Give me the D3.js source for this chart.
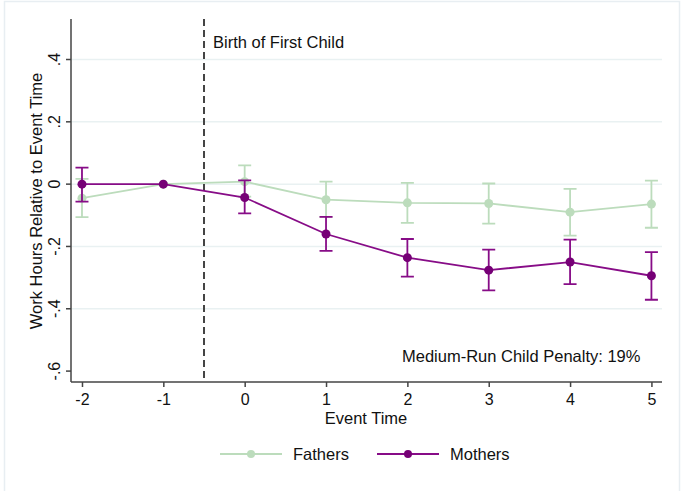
<!DOCTYPE html>
<html>
<head>
<meta charset="utf-8">
<script src="https://cdn.jsdelivr.net/npm/d3@7"></script>
<style>
  body { margin: 0; background: #fff; }
  text { font-family: "Liberation Sans", Arial, sans-serif; fill: #111; }
</style>
</head>
<body>
<svg id="chart" width="681" height="491"></svg>
<script>
// event time categories and tick labels
const eventTimes = [-2, -1, 0, 1, 2, 3, 4, 5];
const xTickLabels = ["-2", "-1", "0", "1", "2", "3", "4", "5"];
const yTicks = [0.4, 0.2, 0, -0.2, -0.4, -0.6];
const yTickLabels = [".4", ".2", "0", "-.2", "-.4", "-.6"];

// estimates with confidence intervals (null = reference period, no CI)
const fathers = [-0.045, 0, 0.008, -0.05, -0.06, -0.062, -0.09, -0.064];
const fathersLo = [-0.106, null, -0.04, -0.105, -0.124, -0.127, -0.165, -0.14];
const fathersHi = [0.017, null, 0.06, 0.008, 0.004, 0.002, -0.015, 0.011];

const mothers = [0, 0, -0.043, -0.16, -0.236, -0.276, -0.25, -0.294];
const mothersLo = [-0.056, null, -0.094, -0.214, -0.297, -0.341, -0.321, -0.371];
const mothersHi = [0.053, null, 0.012, -0.105, -0.176, -0.21, -0.178, -0.218];

const green = "#bcdcbc", purple = "#870c87", purpleDot = "#760076";
const fs = "16.5px";

const svg = d3.select("#chart");

// outer frame like the Stata graph region
svg.append("rect")
    .attr("x", 4.5).attr("y", 1.5)
    .attr("width", 675).attr("height", 500)
    .attr("fill", "none")
    .attr("stroke", "#e8eef2")
    .attr("stroke-width", 1.5);

let margin = { left: 71, top: 19, right: 681 - 662, bottom: 491 - 382 };
let width = 681 - margin.left - margin.right,
    height = 491 - margin.top - margin.bottom;

let x = d3.scaleLinear().domain([-2.135, 5.13]).range([0, width]);
let y = d3.scaleLinear().domain([-0.635, 0.53]).range([height, 0]);

let g = svg.append("g").attr("transform", "translate(" + margin.left + "," + margin.top + ")");

// grid lines
g.selectAll(".grid")
    .data(yTicks.filter(d => d > -0.6))
    .join("line")
    .attr("x1", 0).attr("x2", width)
    .attr("y1", d => y(d)).attr("y2", d => y(d))
    .attr("stroke", "#e9f1f2")
    .attr("stroke-width", 1.5);

// axes
let yAxis = g.append("g")
    .call(d3.axisLeft(y).tickValues(yTicks).tickSize(5).tickFormat((d, i) => yTickLabels[i]));
yAxis.select(".domain").attr("d", "M0,0V" + height);
yAxis.selectAll(".tick").attr("transform", null);
yAxis.selectAll(".tick line").attr("y1", d => y(d)).attr("y2", d => y(d));
yAxis.selectAll("text")
    .attr("transform", d => "rotate(-90," + (-11) + "," + y(d) + ")")
    .attr("x", -11).attr("y", d => y(d)).attr("dy", 0)
    .attr("text-anchor", "middle")
    .style("font-size", "16px");

let xAxis = g.append("g")
    .attr("transform", "translate(0," + height + ")")
    .call(d3.axisBottom(x).tickValues(eventTimes).tickSize(5).tickFormat((d, i) => xTickLabels[i]));
xAxis.select(".domain").attr("d", "M0,0H" + width);
xAxis.selectAll("text").attr("y", 23).attr("dy", 0).style("font-size", "16px");

[yAxis, xAxis].forEach(a => {
    a.selectAll("path, line").attr("stroke", "#444").attr("stroke-width", 1.5);
    a.attr("font-family", null).attr("font-size", null);
});

// axis titles
svg.append("text")
    .attr("transform", "rotate(-90)")
    .attr("x", -201).attr("y", 42)
    .attr("text-anchor", "middle")
    .style("font-size", fs)
    .text("Work Hours Relative to Event Time");

svg.append("text")
    .attr("x", 366).attr("y", 424)
    .attr("text-anchor", "middle")
    .style("font-size", fs)
    .text("Event Time");

// birth of first child marker
g.append("line")
    .attr("x1", x(-0.5)).attr("x2", x(-0.5))
    .attr("y1", 0).attr("y2", height)
    .attr("stroke", "#444")
    .attr("stroke-width", 2)
    .attr("stroke-dasharray", "7,4");

g.append("text")
    .attr("x", x(-0.5) + 9).attr("y", 48 - margin.top)
    .style("font-size", fs)
    .text("Birth of First Child");

g.append("text")
    .attr("x", 402 - margin.left).attr("y", 362 - margin.top)
    .style("font-size", fs)
    .text("Medium-Run Child Penalty: 19%");

function drawSeries(vals, lo, hi, lineColor, dotColor) {
    let pts = eventTimes.map((t, i) => ({ t: t, v: vals[i], lo: lo[i], hi: hi[i] }));
    let s = g.append("g");
    let bars = pts.filter(d => d.lo !== null);
    s.selectAll(".ci")
        .data(bars)
        .join("path")
        .attr("d", d => "M" + (x(d.t) - 6.5) + "," + y(d.hi) + "H" + (x(d.t) + 6.5) +
            "M" + x(d.t) + "," + y(d.hi) + "V" + y(d.lo) +
            "M" + (x(d.t) - 6.5) + "," + y(d.lo) + "H" + (x(d.t) + 6.5))
        .attr("fill", "none")
        .attr("stroke", lineColor)
        .attr("stroke-width", 1.8);
    s.append("path")
        .datum(pts)
        .attr("d", d3.line().x(d => x(d.t)).y(d => y(d.v)))
        .attr("fill", "none")
        .attr("stroke", lineColor)
        .attr("stroke-width", 1.8);
    s.selectAll("circle")
        .data(pts)
        .join("circle")
        .attr("cx", d => x(d.t)).attr("cy", d => y(d.v))
        .attr("r", 4.5)
        .attr("fill", dotColor);
}

drawSeries(fathers, fathersLo, fathersHi, green, green);
drawSeries(mothers, mothersLo, mothersHi, purple, purpleDot);

// legend
let legend = [
    { name: "Fathers", color: green, dot: green, x: 220 },
    { name: "Mothers", color: purple, dot: purpleDot, x: 377 }
];
let lg = svg.append("g");
legend.forEach(l => {
    lg.append("line")
        .attr("x1", l.x).attr("x2", l.x + 62)
        .attr("y1", 454).attr("y2", 454)
        .attr("stroke", l.color).attr("stroke-width", 1.8);
    lg.append("circle")
        .attr("cx", l.x + 31).attr("cy", 454).attr("r", 4)
        .attr("fill", l.dot);
    lg.append("text")
        .attr("x", l.x + 73).attr("y", 459.5)
        .style("font-size", fs)
        .text(l.name);
});
</script>
</body>
</html>
